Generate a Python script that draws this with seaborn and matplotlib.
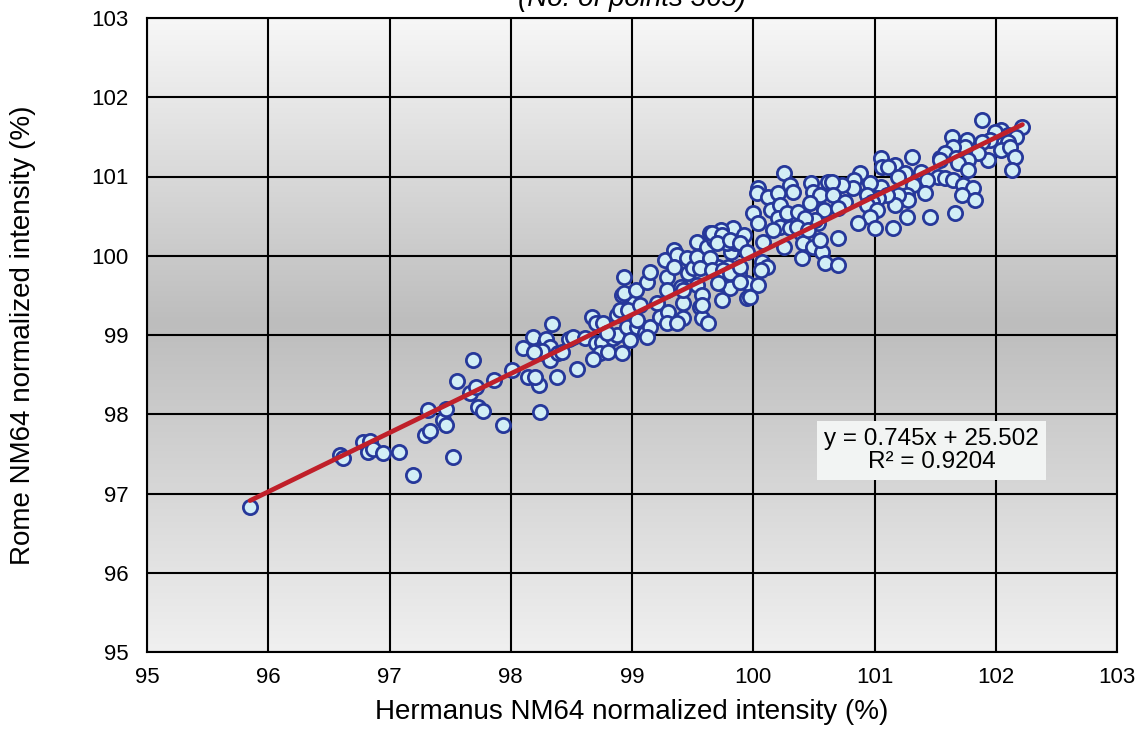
import numpy as np
import pandas as pd
import matplotlib
matplotlib.use('Agg')
import matplotlib.pyplot as plt
from matplotlib.colors import LinearSegmentedColormap
import seaborn as sns

# Daily normalized intensities (subset, overlaps merged)
hermanus = [
    95.85, 96.59, 96.62, 96.78, 96.84, 96.82, 96.86, 96.95, 97.08, 97.19,
    97.29, 97.33, 97.32, 97.44, 97.47, 97.47, 97.52, 97.56, 97.69, 97.66,
    97.71, 97.73, 97.77, 97.86, 97.94, 98.01, 98.10, 98.18, 98.14, 98.23,
    98.24, 98.20, 98.28, 98.27, 98.32, 98.38, 98.29, 98.32, 98.26, 98.19,
    98.39, 98.42, 98.55, 98.34, 98.48, 98.51, 98.61, 98.67, 98.70, 98.70,
    98.75, 98.74, 98.68, 98.80, 98.84, 98.88, 98.92, 98.88, 98.92, 98.96,
    98.98, 99.02, 99.04, 98.93, 98.93, 98.76, 98.90, 98.97, 98.79, 99.03,
    99.04, 99.07, 99.12, 99.15, 99.11, 99.15, 99.12, 99.21, 99.23, 99.29,
    99.27, 99.29, 99.30, 99.29, 99.35, 99.37, 99.35, 99.40, 99.42, 99.42,
    99.37, 99.45, 99.46, 99.50, 99.54, 99.54, 99.54, 99.56, 99.58, 99.63,
    99.62, 99.64, 99.68, 99.64, 99.71, 99.73, 99.74, 99.79, 99.82, 99.83,
    99.85, 99.78, 99.81, 99.95, 99.95, 99.92, 99.88, 99.73,
    100.25, 100.04, 100.03, 100.12, 100.20, 100.30, 100.33, 100.48, 100.49, 100.55,
    100.62, 100.00, 100.04, 100.15, 100.22, 100.20, 100.28, 100.37, 100.47, 100.58,
    100.22, 100.16, 100.30, 100.39, 100.44, 100.53, 100.08, 100.25, 100.41, 100.49,
    100.57, 100.40, 100.59, 100.07, 100.11, 100.06, 100.04, 99.97, 99.66, 99.74,
    99.70, 99.81, 99.89, 99.95, 99.64, 99.56, 99.66, 99.75, 99.81, 99.89,
    99.71, 99.89, 99.58, 99.42, 99.58,
    101.31, 101.05, 101.06, 101.17, 101.11, 101.54, 101.52, 101.38, 101.25, 101.19,
    101.43, 101.32, 101.42, 101.27, 101.28, 101.19, 101.17, 101.05, 101.10, 101.03,
    100.96, 100.88, 100.94, 100.98, 100.94, 101.02, 100.96, 101.27, 101.46, 100.86,
    101.00, 101.15, 100.83, 100.82, 100.73, 100.65, 100.66, 100.76, 100.70, 100.51,
    100.43, 100.36, 100.45, 100.55, 100.70, 100.70,
    101.89, 102.22, 102.04, 101.99, 102.10, 102.17, 101.95, 101.89, 102.10, 102.04,
    102.12, 102.16, 102.13, 101.94, 101.85, 101.76, 101.75, 101.64, 101.65, 101.58,
    101.67, 101.77, 101.69, 101.54, 101.77, 101.58, 101.65, 101.73, 101.81, 101.72,
    101.83, 101.66,
]
rome = [
    96.83, 97.49, 97.45, 97.65, 97.66, 97.52, 97.56, 97.51, 97.52, 97.23,
    97.74, 97.79, 98.05, 97.93, 97.86, 98.07, 97.46, 98.42, 98.68, 98.27,
    98.34, 98.09, 98.04, 98.43, 97.86, 98.56, 98.84, 98.97, 98.47, 98.37,
    98.03, 98.47, 98.91, 98.77, 98.68, 98.47, 98.95, 98.85, 98.80, 98.79,
    98.77, 98.79, 98.57, 99.14, 98.95, 98.97, 98.96, 99.23, 99.15, 98.90,
    98.91, 98.77, 98.70, 98.79, 98.96, 99.00, 98.77, 99.25, 99.50, 99.10,
    98.94, 99.40, 99.10, 99.73, 99.53, 99.15, 99.32, 99.32, 99.03, 99.57,
    99.19, 99.38, 99.67, 99.79, 99.03, 99.10, 98.97, 99.40, 99.23, 99.73,
    99.95, 99.57, 99.29, 99.15, 100.07, 100.01, 99.86, 99.61, 99.40, 99.21,
    99.15, 99.97, 99.78, 99.84, 99.98, 100.17, 99.63, 99.35, 99.21, 99.15,
    100.11, 100.29, 100.20, 99.95, 99.86, 99.66, 99.44, 99.86, 100.05, 100.35,
    100.16, 100.16, 99.59, 99.66, 99.47, 100.26, 99.78, 100.32,
    101.04, 100.86, 100.79, 100.74, 100.79, 100.89, 100.80, 100.92, 100.80, 100.77,
    100.93, 100.54, 100.41, 100.58, 100.64, 100.48, 100.54, 100.55, 100.67, 100.58,
    100.36, 100.33, 100.35, 100.29, 100.41, 100.41, 100.17, 100.11, 100.16, 100.11,
    100.05, 99.97, 99.91, 99.92, 99.86, 99.82, 99.63, 99.48, 100.29, 100.26,
    100.16, 100.20, 100.16, 100.05, 99.97, 99.85, 99.82, 99.82, 99.78, 99.86,
    99.66, 99.67, 99.50, 99.57, 99.38,
    101.25, 101.23, 101.12, 101.15, 101.12, 101.23, 100.99, 101.06, 101.04, 100.99,
    100.96, 100.89, 100.79, 100.77, 100.70, 100.77, 100.64, 100.87, 100.77, 100.73,
    100.92, 101.04, 100.77, 100.68, 100.64, 100.58, 100.49, 100.49, 100.49, 100.41,
    100.35, 100.35, 100.96, 100.85, 100.89, 100.93, 100.77, 100.68, 100.60, 100.45,
    100.48, 100.36, 100.33, 100.20, 100.22, 99.88,
    101.71, 101.62, 101.59, 101.56, 101.52, 101.50, 101.46, 101.44, 101.44, 101.33,
    101.37, 101.25, 101.08, 101.21, 101.30, 101.46, 101.37, 101.50, 101.37, 101.30,
    101.23, 101.21, 101.17, 101.21, 101.08, 100.98, 100.96, 100.89, 100.85, 100.77,
    100.70, 100.54,
]

# Trend line as printed on the chart
slope = 0.745
intercept = 25.502
r_squared = 0.9204
n_points = 365

ticks = list(range(95, 104))

df = pd.DataFrame({'hermanus': hermanus, 'rome': rome})

sns.set_style('white')
plt.rcParams['font.family'] = ['Liberation Sans', 'DejaVu Sans']
plt.rcParams['text.color'] = 'black'
plt.rcParams['axes.labelcolor'] = 'black'
plt.rcParams['xtick.color'] = 'black'
plt.rcParams['ytick.color'] = 'black'

fig = plt.figure(figsize=(11.47, 7.56), dpi=100)
ax = fig.add_axes([147 / 1147, 1 - 652 / 756, 970 / 1147, 634 / 756])

# gray gradient backdrop, light at top and bottom
cmap = LinearSegmentedColormap.from_list(
    'bg', [(0.0, '#f7f7f7'), (0.48, '#bdbdbd'), (1.0, '#f0f0f0')])
grad = np.linspace(0, 1, 256).reshape(-1, 1)
ax.imshow(grad, cmap=cmap, extent=[95, 103, 95, 103], aspect='auto',
          origin='upper', zorder=-2, interpolation='bilinear')

ax.grid(True, color='black', linewidth=1.5, zorder=0)
ax.set_axisbelow(True)

sns.scatterplot(data=df, x='hermanus', y='rome', ax=ax, marker='o', s=105,
                color='#d2eef6', edgecolor='#26389a', linewidth=2.0, zorder=3)

xl = np.array([min(hermanus), max(hermanus)])
ax.plot(xl, slope * xl + intercept, color='#c0202a', linewidth=3.4,
        solid_capstyle='round', zorder=4)

ax.text(101.47, 97.54, f'y = {slope:.3f}x + {intercept:.3f}\nR² = {r_squared}',
        ha='center', va='center', fontsize=17.5, linespacing=1.05, zorder=5,
        bbox=dict(boxstyle='square,pad=0.3', facecolor='#f2f4f3', edgecolor='none'))

ax.set_xlim(95, 103)
ax.set_ylim(95, 103)
ax.set_xticks(ticks)
ax.set_yticks(ticks)
ax.tick_params(axis='both', labelsize=16, length=0)
ax.tick_params(axis='x', pad=11)
ax.tick_params(axis='y', pad=13)
ax.set_xlabel('Hermanus NM64 normalized intensity (%)', fontsize=20, labelpad=8)
ax.set_ylabel('Rome NM64 normalized intensity (%)', fontsize=20, labelpad=40)
for sp in ax.spines.values():
    sp.set_color('black')
    sp.set_linewidth(1.5)

fig.text(0.5513, 1 - 6 / 756, f'(No. of points {n_points})', ha='center',
         va='baseline', fontsize=20, style='italic')

fig.savefig('out.png', dpi=100)
